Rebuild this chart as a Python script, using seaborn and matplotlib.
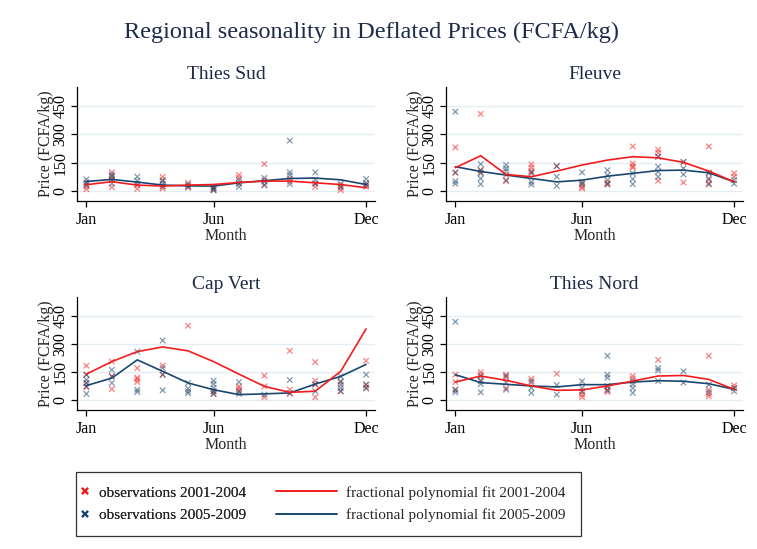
import matplotlib
matplotlib.use('Agg')
from matplotlib import pyplot as plt
from matplotlib.lines import Line2D
from matplotlib.patches import Rectangle
import seaborn as sns
import pandas as pd

# %%
months = list(range(1, 13))
month_ticks = [1, 6, 12]
month_labels = ['Jan', 'Jun', 'Dec']
price_ticks = [0, 150, 300, 450]
periods = ['2001-2004', '2005-2009']
regions = ['Thies Sud', 'Fleuve', 'Cap Vert', 'Thies Nord']

# observations per month (Jan..Dec)
thies_sud_obs_early = [[40, 25, 10], [100, 80, 64, 20], [30, 12], [75, 58, 23, 14], [44, 28, 18], [14, 5],
                       [85, 70, 40], [143, 58, 32], [67, 50], [40, 23], [32, 18, 5], [35, 23]]
thies_sud_obs_late = [[62, 46, 32], [88, 76, 58, 40], [76, 55, 40], [55, 40, 28], [35, 23], [23, 14, 5],
                      [58, 40, 23], [70, 50, 32], [267, 99, 85, 37], [99, 58, 40], [40, 23], [64, 44, 32]]
fleuve_obs_early = [[231, 97], [408, 111, 99], [85, 53], [141, 124, 106, 94], [132], [40, 23, 14],
                    [44, 37], [236, 146, 132, 124], [219, 203, 182, 55], [152, 46], [236, 99, 58, 35], [94, 76]]
fleuve_obs_late = [[420, 99, 53, 40], [143, 111, 94, 67, 37], [138, 120, 106, 58], [99, 49, 35], [132, 76, 28],
                   [99, 49, 35], [111, 85, 58, 35], [94, 64, 37], [182, 129, 102, 76], [155, 120, 88],
                   [94, 67, 40], [58, 40]]
cap_vert_obs_early = [[184, 136, 92, 69], [206, 127, 60], [171, 120, 111, 97], [185, 136], [397], [48, 34],
                      [74, 62, 48], [131, 74, 16], [263, 56, 34], [203, 104, 83, 16], [97, 48], [210, 83, 69]]
cap_vert_obs_late = [[136, 109, 92, 74, 34], [162, 127, 92], [259, 56, 44], [318, 171, 136, 53],
                     [92, 62, 48, 37], [104, 86, 65, 48, 34], [97, 48, 34], [30], [108, 39], [86, 48],
                     [127, 101, 83, 65, 48], [136, 83, 62]]
thies_nord_obs_early = [[136, 97, 56], [150, 136, 106], [136, 122, 65], [115, 92], [141], [44, 30, 16],
                        [74, 56, 44], [129, 115], [215], [], [237, 56, 34, 21], [79, 65]]
thies_nord_obs_late = [[418, 56, 42], [127, 102, 86, 42], [129, 94, 56], [102, 65, 39], [81, 30], [101, 65, 48],
                       [237, 136, 120, 74, 53], [101, 85, 65, 39], [171, 159, 102], [154, 94], [83, 44], [65, 48]]

# fractional polynomial fits evaluated at each month
thies_sud_fit_early = [34, 50, 32, 27, 32, 35, 46, 53, 53, 44, 35, 18]
thies_sud_fit_late = [51, 62, 48, 32, 28, 27, 44, 55, 67, 69, 60, 35]
fleuve_fit_early = [124, 187, 88, 76, 106, 138, 164, 182, 176, 152, 106, 49]
fleuve_fit_late = [129, 104, 85, 67, 49, 58, 79, 94, 109, 111, 97, 49]
cap_vert_fit_early = [139, 206, 259, 284, 263, 206, 139, 74, 42, 48, 154, 380]
cap_vert_fit_late = [78, 118, 215, 154, 92, 56, 30, 34, 39, 86, 127, 191]
thies_nord_fit_early = [97, 129, 106, 76, 53, 55, 76, 102, 129, 132, 111, 58]
thies_nord_fit_late = [136, 94, 85, 76, 71, 83, 83, 97, 104, 101, 88, 58]

# %%
obs_rows = []
fit_rows = []
panel_data = {
    'Thies Sud': (thies_sud_obs_early, thies_sud_obs_late, thies_sud_fit_early, thies_sud_fit_late),
    'Fleuve': (fleuve_obs_early, fleuve_obs_late, fleuve_fit_early, fleuve_fit_late),
    'Cap Vert': (cap_vert_obs_early, cap_vert_obs_late, cap_vert_fit_early, cap_vert_fit_late),
    'Thies Nord': (thies_nord_obs_early, thies_nord_obs_late, thies_nord_fit_early, thies_nord_fit_late),
}
for region, (obs_e, obs_l, fit_e, fit_l) in panel_data.items():
    for period, obs, fit in [(periods[0], obs_e, fit_e), (periods[1], obs_l, fit_l)]:
        for m, vals, f in zip(months, obs, fit):
            for v in vals:
                obs_rows.append({'region': region, 'period': period, 'month': m, 'price': v})
            fit_rows.append({'region': region, 'period': period, 'month': m, 'price': f})
obs_df = pd.DataFrame(obs_rows)
fit_df = pd.DataFrame(fit_rows)

# %%
sns.set_theme(style='white')
plt.rcParams['font.family'] = ['Liberation Serif', 'DejaVu Serif']

red = '#f21c1c'
navy = '#1a476f'
palette = {periods[0]: red, periods[1]: navy}
title_color = '#1c2b4a'

fig = plt.figure(figsize=(7.57, 5.49), dpi=100)
W, H = 757, 549
boxes = {
    'Thies Sud': (77, 87, 375, 201),
    'Fleuve': (446, 87, 743, 201),
    'Cap Vert': (77, 297, 375, 410),
    'Thies Nord': (446, 297, 743, 410),
}

for region in regions:
    x0, y0, x1, y1 = boxes[region]
    ax = fig.add_axes([x0 / W, 1 - y1 / H, (x1 - x0) / W, (y1 - y0) / H])
    for y in price_ticks:
        ax.axhline(y, color='#e4edf1', linewidth=1.0, zorder=0)
    sub_obs = obs_df[obs_df['region'] == region]
    sub_fit = fit_df[fit_df['region'] == region]
    sns.scatterplot(data=sub_obs, x='month', y='price', hue='period', palette=palette,
                    hue_order=periods, marker='x', s=16, linewidth=0.9, alpha=0.55,
                    legend=False, ax=ax, zorder=2)
    sns.lineplot(data=sub_fit, x='month', y='price', hue='period', palette=palette,
                 hue_order=periods[::-1], linewidth=1.2, legend=False, ax=ax, zorder=3)
    ax.set_xlim(0.63, 12.35)
    ax.set_ylim(-52, 550)
    ax.set_xticks(month_ticks)
    ax.set_xticklabels(month_labels)
    ax.set_yticks(price_ticks)
    ax.set_yticklabels([str(t) for t in price_ticks], rotation=90, va='center')
    ax.tick_params(axis='both', direction='out', length=4, width=0.9, color='black',
                   labelsize=11.5, labelcolor='black', left=True, bottom=True)
    ax.tick_params(axis='x', pad=4)
    ax.tick_params(axis='y', pad=2)
    ax.set_xlabel('Month', fontsize=11.5, labelpad=0)
    ax.set_ylabel('Price (FCFA/kg)', fontsize=11.5, labelpad=-1)
    ax.set_title(region, fontsize=14, color=title_color, pad=6)
    sns.despine(ax=ax)
    for side in ['left', 'bottom']:
        ax.spines[side].set_color('black')
        ax.spines[side].set_linewidth(0.9)

fig.text(371 / W, 1 - 32 / H, 'Regional seasonality in Deflated Prices (FCFA/kg)',
         ha='center', va='center', fontsize=17.5, color=title_color)

# legend box with two columns
fig.patches.append(Rectangle((76 / W, 1 - 536 / H), (581 - 76) / W, (536 - 472) / H,
                             transform=fig.transFigure, fill=False, edgecolor='#333333',
                             linewidth=0.9))
marker_handles = [Line2D([], [], linestyle='none', marker='x', color=c, markersize=5, markeredgewidth=1.5)
                  for c in [red, navy]]
line_handles = [Line2D([], [], color=c, linewidth=1.4) for c in [red, navy]]
leg1 = fig.legend(marker_handles, ['observations ' + p for p in periods],
                  loc='center left', bbox_to_anchor=(64 / W, 1 - 504 / H), frameon=False,
                  fontsize=11, handlelength=1.0, handletextpad=0.4, labelspacing=0.55)
fig.legend(line_handles, ['fractional polynomial fit ' + p for p in periods],
           loc='center left', bbox_to_anchor=(262 / W, 1 - 504 / H), frameon=False,
           fontsize=11, handlelength=4.0, handletextpad=0.6, labelspacing=0.55)
fig.add_artist(leg1)

plt.savefig('out.png', dpi=100)
